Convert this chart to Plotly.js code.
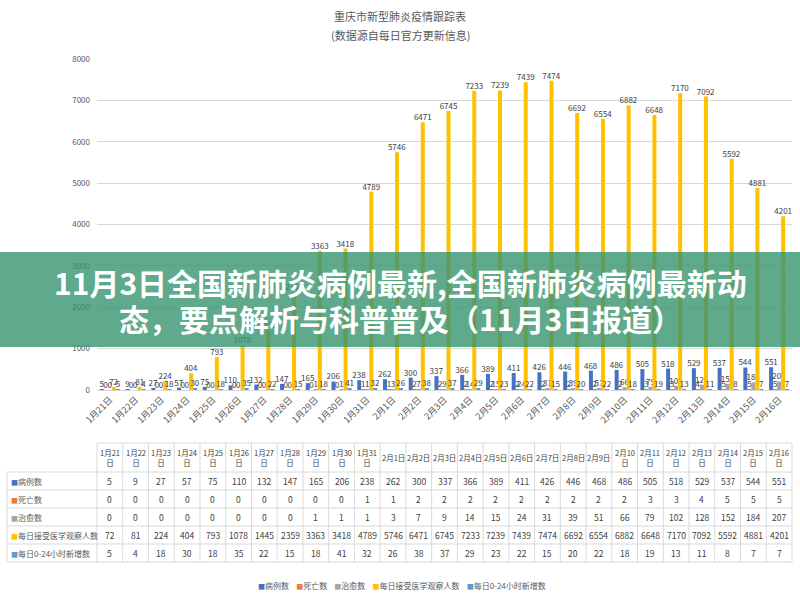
<!DOCTYPE html>
<html>
<head>
<meta charset="utf-8">
<script src="https://cdn.plot.ly/plotly-3.0.1.min.js"></script>
<style>html,body{margin:0;padding:0;background:#fff;}#chart{width:800px;height:600px;}</style>
</head>
<body>
<div id="chart"></div>
<script>
const dates = ["1月21日","1月22日","1月23日","1月24日","1月25日","1月26日","1月27日","1月28日","1月29日","1月30日","1月31日","2月1日","2月2日","2月3日","2月4日","2月5日","2月6日","2月7日","2月8日","2月9日","2月10日","2月11日","2月12日","2月13日","2月14日","2月15日","2月16日"];
const seriesNames = ["病例数","死亡数","治愈数","每日接受医学观察人数","每日0-24小时新增数"];
const seriesColors = ["#4472C4","#ED7D31","#A5A5A5","#FFC000","#5B9BD5"];
const cases = [5,9,27,57,75,110,132,147,165,206,238,262,300,337,366,389,411,426,446,468,486,505,518,529,537,544,551];
const deaths = [0,0,0,0,0,0,0,0,0,0,1,1,2,2,2,2,2,2,2,2,2,3,3,4,5,5,5];
const cured = [0,0,0,0,0,0,0,0,1,1,1,3,7,9,14,15,24,31,39,51,66,79,102,128,152,184,207];
const observed = [72,81,224,404,793,1078,1445,2359,3363,3418,4789,5746,6471,6745,7233,7239,7439,7474,6692,6554,6882,6648,7170,7092,5592,4881,4201];
const newCases = [5,4,18,30,18,35,22,15,18,41,32,26,38,37,29,23,22,15,20,22,18,19,13,11,8,7,7];
const chartTitle = "重庆市新型肺炎疫情跟踪表";
const chartSubtitle = "(数据源自每日官方更新信息)";
const bannerLine1 = "11月3日全国新肺炎病例最新,全国新肺炎病例最新动";
const bannerLine2 = "态，要点解析与科普普及（11月3日报道）";

const allSeries = [cases, deaths, cured, observed, newCases];
const FONT = "Noto Sans CJK SC, Noto Sans, sans-serif";
const TXT = "#595959";
const gridC = "#d9d9d9";
const W = 800, H = 600;
const px = x => x / W;
const py = y => 1 - y / H;

const traces = allSeries.map((vals, i) => ({
  type: "bar",
  name: seriesNames[i],
  x: dates,
  y: vals,
  marker: {color: seriesColors[i]},
  text: vals.map(String),
  textposition: "outside",
  constraintext: "none",
  cliponaxis: false,
  textfont: {size: 8, color: "#404040", family: FONT},
  showlegend: false,
  hoverinfo: "x+y+name"
}));

// ---- data table built from the same arrays (shapes + annotations in paper coords) ----
const tLeft = 7, tData = 97, tRight = 792, colW = (tRight - tData) / dates.length;
const tTop = 443, hdrBot = 472, rowH = 18;
const tBot = hdrBot + rowH * allSeries.length;
const shapes = [];
const annotations = [];
const line = (x0, y0, x1, y1) => shapes.push({type: "line", xref: "paper", yref: "paper", x0: px(x0), y0: py(y0), x1: px(x1), y1: py(y1), line: {color: gridC, width: 1}, layer: "below"});
line(tData, tTop, tRight, tTop);
for (let r = 0; r <= allSeries.length; r++) line(tLeft, hdrBot + r * rowH, tRight, hdrBot + r * rowH);
line(tLeft, hdrBot, tLeft, tBot);
for (let c = 0; c <= dates.length; c++) line(tData + c * colW, tTop, tData + c * colW, tBot);

dates.forEach((d, j) => {
  const hdr = d.length === 5 ? d.slice(0, 4) + "<br>" + d.slice(4) : d;
  annotations.push({text: hdr, xref: "paper", yref: "paper", x: px(tData + (j + 0.5) * colW), y: py((tTop + hdrBot) / 2), xanchor: "center", yanchor: "middle", showarrow: false, font: {size: 7.5, color: "#404040", family: FONT}});
  allSeries.forEach((s, r) => {
    annotations.push({text: String(s[j]), xref: "paper", yref: "paper", x: px(tData + (j + 0.5) * colW), y: py(hdrBot + (r + 0.5) * rowH), xanchor: "center", yanchor: "middle", showarrow: false, font: {size: 8.5, color: "#404040", family: FONT}});
  });
});
seriesNames.forEach((n, r) => {
  annotations.push({text: `<span style="color:${seriesColors[r]};font-size:7px">■</span>${n}`, xref: "paper", yref: "paper", x: px(9), y: py(hdrBot + (r + 0.5) * rowH), xanchor: "left", yanchor: "middle", showarrow: false, font: {size: 8, color: TXT, family: FONT}});
});

// banner
shapes.push({type: "rect", xref: "paper", yref: "paper", x0: 0, x1: 1, y0: py(347), y1: py(252), fillcolor: "rgba(55,148,112,0.8)", line: {width: 0}, layer: "above"});

const legendText = seriesNames.map((n, i) => `<span style="color:${seriesColors[i]};font-size:7px">■</span>${n}`).join("&nbsp;&nbsp;&nbsp;&nbsp;");

annotations.push(
  {text: chartSubtitle, xref: "paper", yref: "paper", x: 0.5, y: py(35), xanchor: "center", yanchor: "middle", showarrow: false, font: {size: 11, color: TXT, family: FONT}},
  {text: bannerLine1, xref: "paper", yref: "paper", x: 0.5, y: py(282), xanchor: "center", yanchor: "middle", showarrow: false, font: {size: 30, color: "#ffffff", family: FONT, weight: 700}},
  {text: bannerLine2, xref: "paper", yref: "paper", x: 0.5, y: py(318), xanchor: "center", yanchor: "middle", showarrow: false, font: {size: 30, color: "#ffffff", family: FONT, weight: 700}},
  {text: legendText, xref: "paper", yref: "paper", x: px(402), y: py(585), xanchor: "center", yanchor: "middle", showarrow: false, font: {size: 8, color: TXT, family: FONT}}
);

const layout = {
  width: W, height: H,
  margin: {l: 0, r: 0, t: 0, b: 0},
  paper_bgcolor: "#ffffff",
  plot_bgcolor: "#ffffff",
  font: {family: FONT, color: TXT},
  title: {text: chartTitle, font: {size: 11, color: TXT, family: FONT}, x: 0.5, xanchor: "center", y: 1 - 17/600, yanchor: "middle", xref: "paper", yref: "container"},
  barmode: "group",
  bargap: 0.22,
  bargroupgap: 0,
  showlegend: false,
  xaxis: {
    domain: [px(97), px(792)],
    type: "category",
    tickangle: -45,
    tickfont: {size: 9, color: TXT, family: FONT},
    showline: true, linecolor: gridC, linewidth: 1,
    showgrid: false, ticks: "", automargin: false
  },
  yaxis: {
    domain: [py(390), py(59)],
    range: [0, 8000],
    dtick: 1000,
    tickfont: {size: 8, color: TXT, family: FONT},
    gridcolor: gridC, gridwidth: 1,
    zeroline: true, zerolinecolor: gridC,
    showline: false, ticks: "", automargin: false,
    ticklabelstandoff: 6
  },
  shapes: shapes,
  annotations: annotations
};

Plotly.newPlot("chart", traces, layout, {displayModeBar: false});
</script>
</body>
</html>
